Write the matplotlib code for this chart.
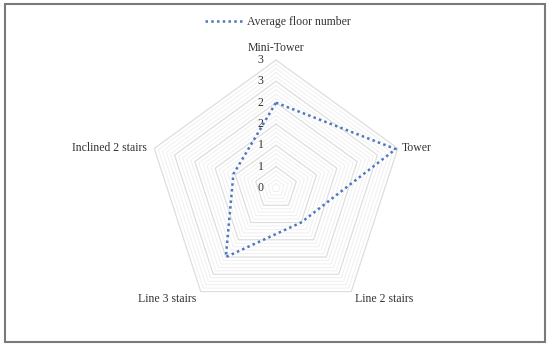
import numpy as np
import matplotlib
matplotlib.use("Agg")
import matplotlib.pyplot as plt
from matplotlib.patches import Rectangle

categories = ["Mini-Tower", "Tower", "Line 2 stairs", "Line 3 stairs", "Inclined 2 stairs"]
avg_floor = [2.0, 2.95, 1.0, 2.0, 1.05]
series_name = "Average floor number"
major_ticks = [0, 0.5, 1, 1.5, 2, 2.5, 3]
tick_labels = ["0", "1", "1", "2", "2", "3", "3"]
minor_ticks = np.round(np.arange(0, 3.01, 0.1), 2)

plt.rcParams["font.family"] = ["Liberation Serif", "DejaVu Serif"]
TEXT = "#333333"
BLUE = "#4f77bd"

W, H = 550, 347
fig = plt.figure(figsize=(W / 100, H / 100), dpi=100)

# polar axes placed so r=3 -> 128 px around centre (276, 188 from top)
cx, cy, R = 276, 347 - 188, 128
ax = fig.add_axes([(cx - R) / W, (cy - R) / H, 2 * R / W, 2 * R / H], polar=True)
ax.set_theta_zero_location("N")
ax.set_theta_direction(-1)
ax.set_ylim(0, 3)
ax.grid(False)
ax.spines["polar"].set_visible(False)
ax.set_xticks([])
ax.set_yticks([])
ax.patch.set_alpha(0)

n = len(categories)
angles = np.linspace(0, 2 * np.pi, n, endpoint=False)
ang_closed = np.append(angles, angles[0])

# pentagon gridlines (minor then major)
for lvl in minor_ticks:
    ax.plot(ang_closed, [lvl] * (n + 1), color="#f0f0f0", lw=0.7, zorder=1, clip_on=False)
for lvl in major_ticks:
    ax.plot(ang_closed, [lvl] * (n + 1), color="#dedede", lw=0.8, zorder=2, clip_on=False)

# data
vals = np.append(avg_floor, avg_floor[0])
line, = ax.plot(ang_closed, vals, color=BLUE, lw=1.8, linestyle=(0, (1, 1.3)),
                zorder=5, clip_on=False, label=series_name)

# radial tick labels along the top axis
for v, lab in zip(major_ticks, tick_labels):
    ax.annotate(lab, xy=(0, v), xytext=(-11, 0), textcoords="offset points",
                ha="center", va="center", fontsize=8.5, color=TEXT)

# category labels
offsets = [(0, 4, "center", "bottom"), (3, 0, "left", "center"),
           (3, -1, "left", "top"), (-3, -1, "right", "top"),
           (-5, 0, "right", "center")]
for a, cat, (dx, dy, ha, va) in zip(angles, categories, offsets):
    ax.annotate(cat, xy=(a, 3), xytext=(dx, dy), textcoords="offset points",
                ha=ha, va=va, fontsize=8.5, color=TEXT)

fig.legend(handles=[line], loc="center", bbox_to_anchor=(0.505, 1 - 22 / H),
           frameon=False, fontsize=8.5, handlelength=3.2, handletextpad=0.4,
           labelcolor=TEXT)

# outer frame
fig.patches.append(Rectangle((5 / W, 5 / H), 540 / W, 338 / H, transform=fig.transFigure,
                             fill=False, edgecolor="#7a7a7a", lw=1.5))

fig.savefig("out.png", dpi=100)
